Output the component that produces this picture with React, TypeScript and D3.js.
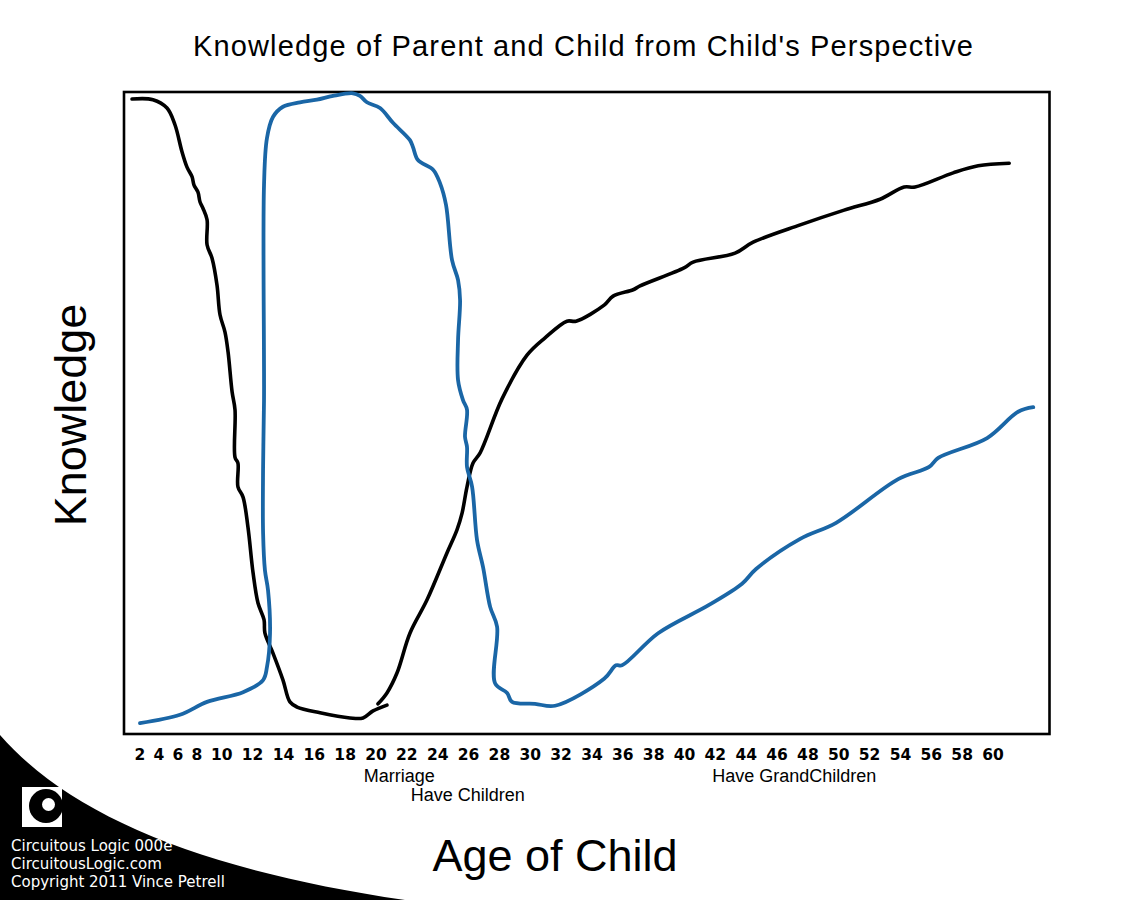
import React from "react";
import * as d3 from "d3";

// ---- data ----
const tickLabels = [2, 4, 6, 8, 10, 12, 14, 16, 18, 20, 22, 24, 26, 28, 30, 32, 34, 36, 38, 40, 42, 44, 46, 48, 50, 52, 54, 56, 58, 60];

// Parent's knowledge (black), first stroke: childhood to ~20
const parentEarlyAge = [1.16, 3.37, 4.85, 5.69, 6.43, 6.96, 7.49, 7.7, 8.09, 8.25, 8.49, 8.82, 8.82, 9.22, 9.62, 9.86, 10.21, 10.41, 10.67, 10.86, 10.86, 11.05, 11.05, 11.38, 11.7, 12.03, 12.35, 12.74, 12.8, 13.32, 13.97, 14.42, 14.88, 16.37, 18.31, 19.16, 19.81, 20.71];
const parentEarlyKnow = [98.9, 98.8, 97.5, 94.9, 90.7, 88.3, 86.8, 85.5, 84.4, 82.9, 81.9, 80.1, 76.2, 74.1, 69.9, 65.3, 62.6, 59.5, 53.3, 50.5, 43.1, 42.2, 38.5, 36.9, 32.2, 25.1, 20.4, 17.8, 15.7, 12.6, 8.4, 5.0, 4.2, 3.3, 2.5, 2.5, 3.6, 4.5];

// Parent's knowledge (black), second stroke: ~20 onwards
const parentLaterAge = [20.13, 20.71, 21.36, 22.2, 23.31, 24.6, 25.25, 25.58, 25.9, 26.29, 26.75, 28.17, 29.79, 30.96, 32.38, 32.97, 34.79, 35.37, 36.67, 37.12, 39.97, 40.56, 43.28, 44.45, 47.5, 50.35, 52.68, 54.24, 54.95, 57.42, 59.04, 61.05];
const parentLaterKnow = [4.7, 6.4, 9.5, 15.7, 20.9, 28.2, 31.8, 34.4, 38.5, 42.2, 43.8, 52.2, 59.0, 61.7, 64.3, 64.3, 66.8, 68.2, 69.2, 69.8, 72.6, 73.5, 74.9, 76.6, 79.3, 81.6, 83.3, 85.2, 85.2, 87.4, 88.5, 88.9];

// Child's own knowledge (blue)
const childAge = [2.0, 6.22, 8.82, 11.38, 12.68, 12.93, 13.13, 13.0, 12.8, 12.68, 12.68, 12.74, 12.74, 12.93, 13.32, 13.97, 15.07, 16.17, 17.21, 18.5, 18.96, 19.41, 20.26, 21.1, 22.2, 22.4, 22.72, 23.7, 24.15, 24.54, 24.93, 25.32, 25.45, 25.32, 25.32, 25.64, 25.9, 25.77, 25.9, 25.9, 26.23, 26.55, 26.94, 27.4, 27.85, 27.72, 28.5, 28.82, 30.31, 31.61, 34.79, 35.56, 35.95, 38.29, 41.59, 43.73, 44.64, 47.5, 49.83, 53.85, 55.86, 56.45, 59.62, 61.63, 62.61];
const childKnow = [1.7, 3.0, 5.0, 6.5, 8.4, 10.4, 15.7, 22.4, 25.5, 31.3, 41.6, 52.0, 85.5, 92.8, 96.1, 97.7, 98.4, 98.8, 99.4, 99.8, 99.4, 98.4, 97.5, 95.2, 92.5, 91.4, 89.4, 87.9, 85.8, 82.4, 73.8, 70.7, 67.6, 61.4, 55.1, 52.0, 50.5, 46.3, 44.7, 41.6, 38.5, 30.2, 26.0, 19.8, 16.7, 7.9, 6.4, 5.0, 4.7, 4.4, 8.6, 10.7, 10.7, 15.7, 20.1, 23.4, 25.7, 30.4, 32.9, 39.7, 41.6, 43.0, 46.1, 50.2, 50.9];

const events = [
  { label: "Marriage", age: 19.2, row: 0 },
  { label: "Have Children", age: 22.25, row: 1 },
  { label: "Have GrandChildren", age: 41.8, row: 0 },
];

const title = "Knowledge of Parent and Child from Child's Perspective";
const xTitle = "Age of Child";
const yTitle = "Knowledge";
const credits = ["Circuitous Logic 000e", "CircuitousLogic.com", "Copyright 2011 Vince Petrell"];

// ---- layout ----
const W = 1125;
const H = 900;
const frame = { left: 124, top: 92, right: 1049.5, bottom: 734 };
const firstTickX = 140;
const DIGIT = 11.9;
const GAP = 7.05;
const BLUE = "#1a66a6";

export default function App() {
  // tick centres follow the typed label row: wider labels take more room
  const centers: number[] = [];
  tickLabels.forEach((t, i) => {
    if (i === 0) centers.push(firstTickX);
    else {
      const a = String(tickLabels[i - 1]).length;
      const b = String(t).length;
      centers.push(centers[i - 1] + ((a + b) / 2) * DIGIT + GAP);
    }
  });
  const x = d3.scaleLinear().domain(tickLabels).range(centers);
  const y = d3.scaleLinear().domain([0, 100]).range([frame.bottom, frame.top]);

  const line = d3
    .line<[number, number]>()
    .x((d) => x(d[0]))
    .y((d) => y(d[1]))
    .curve(d3.curveCatmullRom.alpha(0.5));

  const zip = (a: number[], b: number[]) => a.map((v, i) => [v, b[i]] as [number, number]);

  const series = [
    { pts: zip(parentEarlyAge, parentEarlyKnow), color: "#000", w: 3.6 },
    { pts: zip(parentLaterAge, parentLaterKnow), color: "#000", w: 3.6 },
    { pts: zip(childAge, childKnow), color: BLUE, w: 3.8 },
  ];

  return (
    <svg width={W} height={H} style={{ position: "absolute", left: 0, top: 0, background: "#fff" }}>
      <rect x={0} y={0} width={W} height={H} fill="#fff" />
      {/* corner decoration */}
      <path d="M0,735 C70,815 200,870 405,900 L0,900 Z" fill="#000" />
      <rect x={22} y={787} width={40} height={40} fill="#fff" />
      <circle cx={46} cy={806} r={17} fill="#000" />
      <circle cx={48.5} cy={804.5} r={6.5} fill="#fff" />
      {credits.map((c, i) => (
        <text key={c} x={11} y={851 + i * 18} fill="#fff" fontFamily="DejaVu Sans" fontSize={15}>
          {c}
        </text>
      ))}

      <text
        x={583}
        y={56}
        textAnchor="middle"
        fontFamily="Liberation Sans, Arial, sans-serif"
        fontSize={29}
        textLength={780}
        lengthAdjust="spacing"
      >
        {title}
      </text>

      <rect
        x={frame.left}
        y={frame.top}
        width={frame.right - frame.left}
        height={frame.bottom - frame.top}
        fill="none"
        stroke="#000"
        strokeWidth={2.6}
      />

      {series.map((s, i) => (
        <path
          key={i}
          d={line(s.pts) || ""}
          fill="none"
          stroke={s.color}
          strokeWidth={s.w}
          strokeLinecap="round"
          strokeLinejoin="round"
        />
      ))}

      {tickLabels.map((t) => (
        <text
          key={t}
          x={x(t)}
          y={760}
          textAnchor="middle"
          fontFamily="DejaVu Sans, sans-serif"
          fontWeight="bold"
          fontSize={15.5}
        >
          {t}
        </text>
      ))}

      {events.map((e) => (
        <text
          key={e.label}
          x={x(e.age)}
          y={782 + e.row * 19}
          fontFamily="Liberation Sans, Arial, sans-serif"
          fontSize={18}
        >
          {e.label}
        </text>
      ))}

      <text x={555} y={871} textAnchor="middle" fontFamily="Liberation Sans, Arial, sans-serif" fontSize={45}>
        {xTitle}
      </text>
      <text
        transform="translate(86,415) rotate(-90)"
        textAnchor="middle"
        fontFamily="Liberation Sans, Arial, sans-serif"
        fontSize={45}
      >
        {yTitle}
      </text>
    </svg>
  );
}
